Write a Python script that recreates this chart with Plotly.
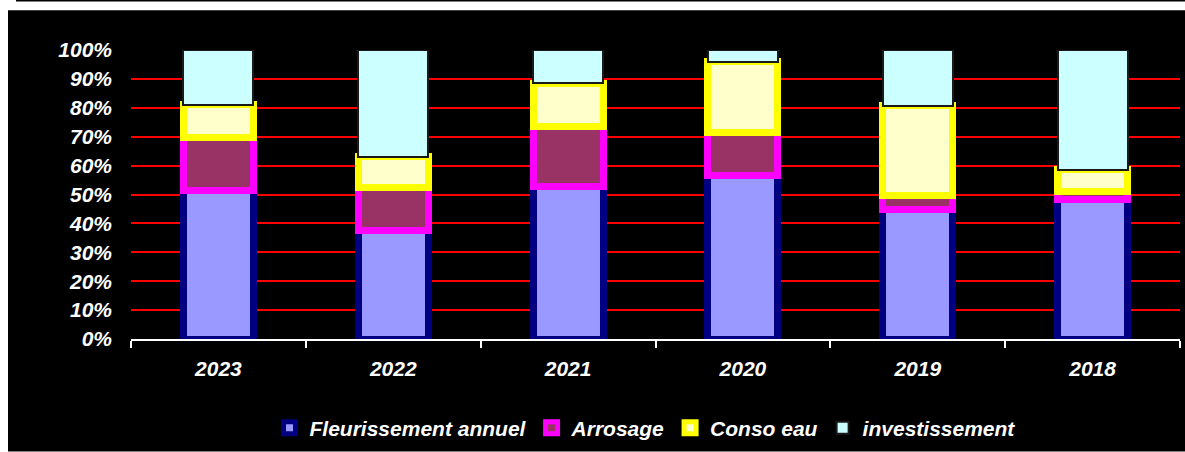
import plotly.graph_objects as go

years = ["2023", "2022", "2021", "2020", "2019", "2018"]
fleurissement = [51.5, 37.4, 52.9, 56.6, 44.9, 48.3]
arrosage = [18.1, 14.9, 20.5, 14.7, 4.6, 2.9]
conso_eau = [11.4, 10.8, 15.1, 24.7, 31.2, 7.4]
investissement = [19.0, 36.9, 11.5, 4.0, 19.3, 41.4]
y_ticks = [0, 10, 20, 30, 40, 50, 60, 70, 80, 90, 100]
y_ticklabels = [f"{v}%" for v in y_ticks]

series = [
    ("Fleurissement annuel", fleurissement, "#9999FF", "#000080", 7),
    ("Arrosage", arrosage, "#993366", "#FF00FF", 7),
    ("Conso eau", conso_eau, "#FFFFCC", "#FFFF00", 7),
    ("investissement", investissement, "#CCFFFF", "#1a1a1a", 2),
]

FONT = "Liberation Sans, Arial, sans-serif"

fig = go.Figure()
for name, vals, fill, line, lw in series:
    fig.add_trace(go.Bar(
        x=years, y=[v / 100 for v in vals], name=name,
        marker=dict(color=fill, line=dict(color=line, width=lw)),
    ))

W, H = 1185, 452
L, R, T, B = 131, 5, 50, 112
pw, ph = W - L - R, H - T - B

def px_x(x):
    return (x - L) / pw

def px_y(y):
    return (H - B - y) / ph

fig.update_layout(
    width=W, height=H,
    margin=dict(l=L, r=R, t=T, b=B, pad=0),
    barmode="stack", bargap=0.6,
    paper_bgcolor="white", plot_bgcolor="black",
    font=dict(family=FONT, size=20, color="white"),
    showlegend=True,
    legend=dict(
        orientation="h", x=px_x(645), xanchor="center",
        y=px_y(428), yanchor="middle",
        font=dict(family=FONT, size=21, color="white", weight="bold", style="italic"),
        bgcolor="rgba(0,0,0,0)", traceorder="normal",
        itemwidth=30,
    ),
    shapes=[
        dict(type="rect", xref="paper", yref="paper",
             x0=px_x(8), x1=px_x(1186), y0=px_y(10), y1=px_y(453),
             fillcolor="black", line=dict(width=0), layer="below"),
        dict(type="line", xref="paper", yref="paper",
             x0=px_x(16), x1=px_x(1186), y0=px_y(0.5), y1=px_y(0.5),
             line=dict(color="black", width=1.5), layer="below"),
    ],
)

fig.update_xaxes(
    type="category", showgrid=False, zeroline=False,
    showline=True, linecolor="white", linewidth=2,
    ticks="outside", tickson="boundaries", ticklen=7, tickwidth=2, tickcolor="white",
    tickfont=dict(family=FONT, size=21, color="white", weight="bold", style="italic"),
    ticklabelstandoff=10,
)
fig.update_yaxes(
    range=[0, 1.0], tickvals=[v / 100 for v in y_ticks], ticktext=y_ticklabels,
    showgrid=True, gridcolor="#FF0000", gridwidth=2,
    zeroline=False, showline=False, ticks="",
    tickfont=dict(family=FONT, size=21, color="white", weight="bold", style="italic"),
    ticklabelstandoff=18,
)

fig.write_html("out.html")
